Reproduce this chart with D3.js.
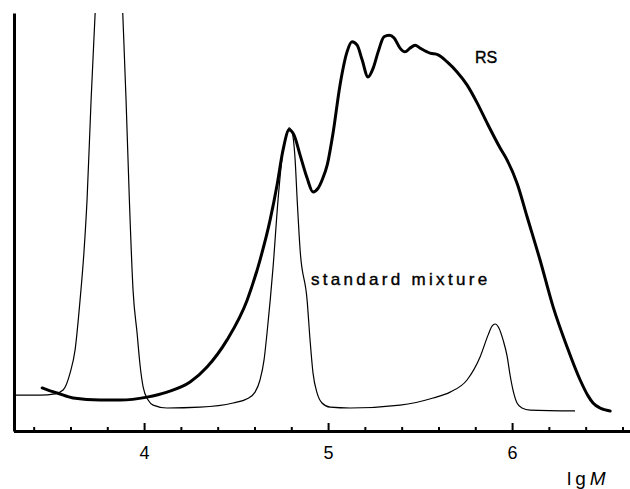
<!DOCTYPE html>
<html>
<head>
<meta charset="utf-8">
<script src="https://cdn.jsdelivr.net/npm/d3@7"></script>
<style>
  html, body { margin: 0; padding: 0; background: #fff; }
  svg { display: block; }
  text { font-family: "Liberation Sans", Arial, sans-serif; fill: #000; }
</style>
</head>
<body>
<svg id="chart" width="630" height="489"></svg>
<script>
// lg M values and detector signal (arbitrary units, 100 = top of frame)
const mixLgM = [3.293, 3.435, 3.516, 3.560, 3.598, 3.625, 3.652, 3.674, 3.690, 3.712, 3.734,
  3.765, 3.810, 3.855, 3.884, 3.902, 3.920, 3.940, 3.962, 3.978, 3.995, 4.022, 4.049, 4.125,
  4.304, 4.484, 4.560, 4.603, 4.630, 4.652, 4.668, 4.701, 4.728, 4.755, 4.777, 4.788, 4.804,
  4.821, 4.832, 4.848, 4.886, 4.902, 4.918, 4.940, 4.967, 5.011, 5.120, 5.391, 5.571, 5.663,
  5.755, 5.826, 5.870, 5.891, 5.908, 5.929, 5.951, 5.973, 5.989, 6.005, 6.027, 6.054, 6.098, 6.342];
const mixSignal = [8.6, 8.6, 8.9, 9.8, 13.9, 19.4, 31.3, 43.3, 55.3, 79.2, 100,
  132, 160, 132, 100, 79.2, 55.3, 33.7, 23.4, 15.8, 10.5, 7.4, 6.2, 5.5,
  5.7, 6.7, 7.7, 9.3, 12.2, 17.0, 23.4, 39.2, 55.3, 67.2, 71.5, 72.5, 71.5,
  64.8, 55.3, 43.3, 31.3, 21.8, 13.9, 9.1, 6.7, 5.7, 5.5, 6.2, 7.9, 9.3,
  12.2, 17.7, 23.0, 25.1, 25.6, 24.6, 21.8, 17.9, 13.4, 9.8, 6.7, 5.5, 5.0, 4.8];

const rsLgM = [3.446, 3.489, 3.527, 3.614, 3.761, 3.870, 4.016, 4.125, 4.250, 4.342, 4.451,
  4.560, 4.630, 4.685, 4.723, 4.755, 4.788, 4.815, 4.848, 4.886, 4.918, 4.946, 4.967, 4.995,
  5.027, 5.065, 5.103, 5.130, 5.158, 5.185, 5.217, 5.245, 5.272, 5.304, 5.332, 5.359, 5.391,
  5.418, 5.446, 5.473, 5.500, 5.554, 5.598, 5.647, 5.701, 5.755, 5.810, 5.864, 5.935, 5.973,
  6.027, 6.082, 6.152, 6.223, 6.299, 6.370, 6.413, 6.440, 6.478, 6.533];
const rsSignal = [10.3, 9.6, 9.1, 7.9, 7.4, 7.4, 8.1, 9.3, 11.7, 15.3, 21.8,
  31.3, 40.9, 50.5, 58.9, 67.2, 72.0, 70.8, 66.0, 60.5, 57.2, 58.1, 60.0, 63.6,
  71.3, 82.8, 90.7, 93.1, 92.3, 88.8, 84.7, 86.8, 90.7, 94.3, 94.7, 94.0, 91.6,
  90.7, 91.6, 92.3, 91.6, 90.4, 90.0, 88.3, 85.9, 82.8, 78.5, 73.7, 67.7, 64.8,
  59.3, 51.2, 40.9, 29.7, 20.1, 12.2, 8.4, 6.7, 5.5, 4.8];

const majorTicks = [4, 5, 6];
const minorTicks = [3.4, 3.6, 3.8, 4.2, 4.4, 4.6, 4.8, 5.2, 5.4, 5.6, 5.8, 6.2, 6.4, 6.6];

const svg = d3.select('#chart');
const x = d3.scaleLinear().domain([3.293, 6.63]).range([14, 628]);
const y = d3.scaleLinear().domain([0, 100]).range([431, 13]);

svg.append('clipPath').attr('id', 'plot-clip')
  .append('rect')
  .attr('x', x(3.293)).attr('y', y(100))
  .attr('width', 630 - x(3.293)).attr('height', y(0) - y(100));

const line = d3.line()
  .x(d => x(d[0]))
  .y(d => y(d[1]))
  .curve(d3.curveMonotoneX);

const plot = svg.append('g').attr('clip-path', 'url(#plot-clip)');

plot.append('path')
  .datum(d3.zip(mixLgM, mixSignal))
  .attr('d', line)
  .attr('fill', 'none')
  .attr('stroke', '#000')
  .attr('stroke-width', 1.2);

plot.append('path')
  .datum(d3.zip(rsLgM, rsSignal))
  .attr('d', line)
  .attr('fill', 'none')
  .attr('stroke', '#000')
  .attr('stroke-width', 3)
  .attr('stroke-linejoin', 'round')
  .attr('stroke-linecap', 'round');

// minor ticks
const minorAxis = svg.append('g')
  .attr('transform', `translate(0,${y(0)})`)
  .call(d3.axisBottom(x).tickValues(minorTicks).tickSize(-4).tickFormat(''));
minorAxis.select('.domain').remove();
minorAxis.selectAll('line').attr('stroke-width', 2);

// major ticks + labels
const majorAxis = svg.append('g')
  .attr('transform', `translate(0,${y(0)})`)
  .call(d3.axisBottom(x).tickValues(majorTicks).tickSize(-8).tickSizeOuter(0)
    .tickPadding(15).tickFormat(d3.format('d')));
majorAxis.select('.domain')
  .attr('d', `M${x(3.293)},0.5H630`)
  .attr('stroke-width', 3);
majorAxis.selectAll('line').attr('stroke-width', 2);
majorAxis.selectAll('text')
  .attr('font-size', 18)
  .attr('font-family', '"Liberation Sans", Arial, sans-serif');

// y axis (frame line only)
const yAxis = svg.append('g')
  .attr('transform', `translate(${x(3.293)},0)`)
  .call(d3.axisLeft(y).tickValues([]).tickSizeOuter(0));
yAxis.select('.domain').attr('stroke-width', 3);

// axis title
const title = svg.append('text')
  .attr('x', 567).attr('y', 485)
  .attr('font-size', 19)
  .attr('letter-spacing', 4);
title.append('tspan').text('lg');
title.append('tspan').attr('font-style', 'italic').attr('letter-spacing', 0).text('M');

// curve labels
svg.append('text')
  .attr('x', 475).attr('y', 63)
  .attr('font-size', 16)
  .attr('stroke', '#000').attr('stroke-width', 0.4)
  .text('RS');

svg.append('text')
  .attr('x', 311).attr('y', 285)
  .attr('font-size', 17)
  .attr('letter-spacing', 3.3)
  .attr('stroke', '#000').attr('stroke-width', 0.4)
  .text('standard mixture');
</script>
</body>
</html>
